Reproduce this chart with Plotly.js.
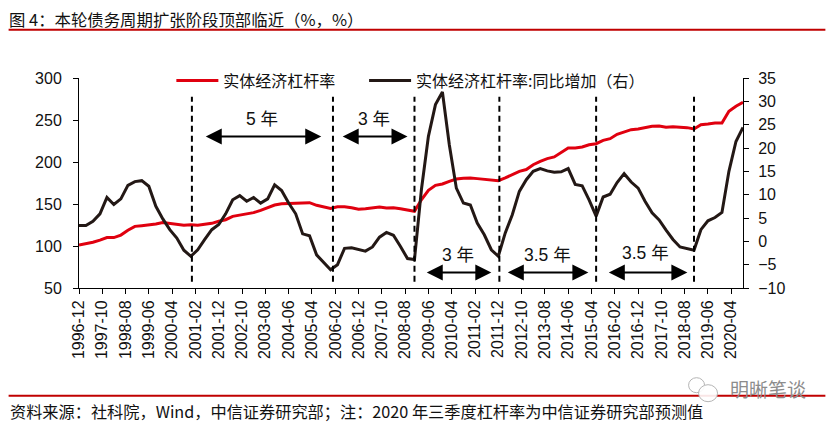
<!DOCTYPE html>
<html>
<head>
<meta charset="utf-8">
<script src="https://cdn.plot.ly/plotly-3.0.1.min.js"></script>
<style>html,body{margin:0;padding:0;background:#fff}#c{width:832px;height:426px}</style>
</head>
<body>
<div id="c"></div>
<script>
const quarters = ["1996-12","1997-03","1997-06","1997-09","1997-12","1998-03","1998-06","1998-09","1998-12","1999-03","1999-06","1999-09","1999-12","2000-03","2000-06","2000-09","2000-12","2001-03","2001-06","2001-09","2001-12","2002-03","2002-06","2002-09","2002-12","2003-03","2003-06","2003-09","2003-12","2004-03","2004-06","2004-09","2004-12","2005-03","2005-06","2005-09","2005-12","2006-03","2006-06","2006-09","2006-12","2007-03","2007-06","2007-09","2007-12","2008-03","2008-06","2008-09","2008-12","2009-03","2009-06","2009-09","2009-12","2010-03","2010-06","2010-09","2010-12","2011-03","2011-06","2011-09","2011-12","2012-03","2012-06","2012-09","2012-12","2013-03","2013-06","2013-09","2013-12","2014-03","2014-06","2014-09","2014-12","2015-03","2015-06","2015-09","2015-12","2016-03","2016-06","2016-09","2016-12","2017-03","2017-06","2017-09","2017-12","2018-03","2018-06","2018-09","2018-12","2019-03","2019-06","2019-09","2019-12","2020-03","2020-06","2020-09"];
const leverage = [101.2,102.8,104.4,107,110,110,113,118.7,123.4,124.2,125,126.2,128,127,125.8,124.6,125.4,124.6,125.8,127,129.4,131.3,135.3,136.9,138,139.7,142.5,145.2,148.8,150.4,150.8,151.6,151.2,151.6,148.4,146.8,144.8,146.8,146.8,145.6,143.7,144.4,145.6,146.4,145.2,145.6,144.4,142.5,141.3,155,166.3,172.2,173.8,177,179.8,180.6,181,180.2,179.4,178.6,177.8,181,185,188.9,191,196.8,200.8,204,206,211.5,216.7,216.7,217.9,220.6,221.8,225.8,227.8,233,236,238.5,239.3,241.3,242.5,242.9,241.3,242,241.3,240.9,239.3,244.4,245.2,246.4,246.4,260.3,266.3,271];
const leverageYoY = [3.4,3.4,4.3,5.9,9.4,7.9,9.1,12,12.8,13,11.8,7.5,4.8,2.5,0.7,-1.9,-3.2,-1.8,0.4,2.5,3.6,5.9,8.9,9.8,8.6,9.4,8.2,9.1,12.1,10.9,8.2,5.9,1.6,1.2,-2.9,-4.6,-6.1,-5,-1.5,-1.4,-1.8,-2.1,-1.2,0.9,1.9,1.3,-1.1,-3.7,-3.9,11,22.5,29.3,32,20.7,11.4,8.2,7.8,3.9,1.4,-1.8,-3.2,1.8,5.7,10.7,13.2,15,15.6,15.1,14.8,14.9,15.6,12.2,11.9,8.9,5.4,9.5,10.1,12.6,14.5,12.7,11.4,8.6,6.1,4.6,2.4,0.4,-1.2,-1.6,-1.9,2.5,4.4,5.1,6.2,15,21.4,24.4];
const tickLabels = ["1996-12","1997-10","1998-08","1999-06","2000-04","2001-02","2001-12","2002-10","2003-08","2004-06","2005-04","2006-02","2006-12","2007-10","2008-08","2009-06","2010-04","2011-02","2011-12","2012-10","2013-08","2014-06","2015-04","2016-02","2016-12","2017-10","2018-08","2019-06","2020-04"];
const cycleMarks = ["2000-12-15","2006-01-01","2008-12-01","2011-12-15","2015-06-01","2018-12-01"];
const spans = [
  {from:"2001-05-25",to:"2005-08-01",level:230.5,label:"5 年",mid:"2003-06-20",textLevel:251.5},
  {from:"2006-04-18",to:"2008-09-01",level:230.5,label:"3 年",mid:"2007-06-15",textLevel:251.5},
  {from:"2009-04-21",to:"2011-09-01",level:68.6,label:"3 年",mid:"2010-06-20",textLevel:89.6},
  {from:"2012-03-15",to:"2015-02-20",level:68.6,label:"3.5 年",mid:"2013-09-01",textLevel:89.6},
  {from:"2015-10-25",to:"2018-09-05",level:68.6,label:"3.5 年",mid:"2017-03-10",textLevel:92}
];
const W=832,H=426,L=78.5,R=743.5,T=78.3,B=288.3;
const px=v=>(v-L)/(R-L), py=v=>(B-v)/(B-T);
const sans='"Liberation Sans","Noto Sans CJK SC",sans-serif';
const cjk='"Noto Sans CJK SC","Liberation Sans",sans-serif';
const ink='#111111';

const traces=[
 {x:quarters,y:leverage,name:'实体经济杠杆率',type:'scatter',mode:'lines',line:{color:'#E0000F',width:3},yaxis:'y',legend:'legend'},
 {x:quarters,y:leverageYoY,name:'实体经济杠杆率:同比增加（右）',type:'scatter',mode:'lines',line:{color:'#231815',width:3},yaxis:'y2',legend:'legend2'}
];
const shapes=cycleMarks.map(d=>({type:'line',xref:'x',yref:'y',x0:d,x1:d,y0:57.5,y1:277.7,line:{color:'#000',width:2,dash:'6px,4px'}}));
const rule=(y,x1)=>({type:'line',xref:'paper',yref:'paper',x0:px(8),x1:px(x1),y0:py(y),y1:py(y),line:{color:'#C00000',width:2}});
shapes.push(rule(30,826),rule(396,826));
shapes.push(
 {type:'circle',xref:'paper',yref:'paper',x0:px(689),x1:px(705),y0:py(393),y1:py(378),fillcolor:'rgba(255,255,255,0.85)',line:{color:'#b5b5b5',width:1}},
 {type:'circle',xref:'paper',yref:'paper',x0:px(699),x1:px(718),y0:py(402),y1:py(385),fillcolor:'rgba(255,255,255,0.9)',line:{color:'#b5b5b5',width:1}}
);
const annotations=[];
spans.forEach(s=>{
 annotations.push({xref:'x',yref:'y',axref:'x',ayref:'y',x:s.to,y:s.level,ax:s.from,ay:s.level,text:'',showarrow:true,arrowside:'end+start',arrowhead:2,arrowsize:1.6,arrowwidth:2,arrowcolor:'#000',standoff:0,startstandoff:0,startarrowhead:2,startarrowsize:1.6});
 annotations.push({xref:'x',yref:'y',x:s.mid,y:s.textLevel,text:s.label,showarrow:false,font:{family:sans,size:17.5,color:ink},xanchor:'center',yanchor:'middle'});
});
annotations.push({xref:'paper',yref:'paper',x:px(7),y:py(411.5),xanchor:'left',yanchor:'middle',showarrow:false,text:'资料来源：社科院，Wind，中信证券研究部；注：2020 年三季度杠杆率为中信证券研究部预测值',font:{family:cjk,size:16.2,color:ink}});
annotations.push({xref:'paper',yref:'paper',x:px(728),y:py(389),xanchor:'left',yanchor:'middle',showarrow:false,text:'明晰笔谈',font:{family:cjk,size:19,color:'#8c8c8c'}});

const legendBase={orientation:'h',xanchor:'left',y:py(81),yanchor:'middle',itemwidth:42,font:{family:cjk,size:16,color:ink},bgcolor:'rgba(0,0,0,0)'};
const layout={
 width:W,height:H,paper_bgcolor:'#fff',plot_bgcolor:'#fff',
 margin:{l:L,r:W-R,t:T,b:H-B,pad:0},
 font:{family:sans,size:16,color:ink},
 title:{text:'图 4：本轮债务周期扩张阶段顶部临近（%，%）',x:9/W,xanchor:'left',xref:'container',y:1-20/H,yanchor:'middle',yref:'container',font:{family:cjk,size:16.4,color:ink}},
 showlegend:true,
 legend:Object.assign({},legendBase,{x:px(171)}),
 legend2:Object.assign({},legendBase,{x:px(364)}),
 xaxis:{type:'date',range:['1996-12-01','2020-09-01'],tickmode:'array',tickvals:tickLabels,ticktext:tickLabels,tickangle:-90,ticks:'outside',ticklen:5,tickwidth:1,tickcolor:'#000',showline:true,linecolor:'#000',linewidth:1,showgrid:false,zeroline:false,tickfont:{family:sans,size:16,color:ink}},
 yaxis:{range:[50,300],dtick:50,ticks:'outside',ticklen:5,tickwidth:1,tickcolor:'#000',showline:true,linecolor:'#000',linewidth:1,showgrid:false,zeroline:false,tickfont:{family:sans,size:16,color:ink},ticklabelstandoff:8},
 yaxis2:{overlaying:'y',side:'right',range:[-10,35],dtick:5,ticks:'outside',ticklen:5,tickwidth:1,tickcolor:'#000',showline:true,linecolor:'#000',linewidth:1,showgrid:false,zeroline:false,tickfont:{family:sans,size:16,color:ink},ticklabelstandoff:6},
 shapes,annotations
};
Plotly.newPlot('c',traces,layout,{displayModeBar:false,staticPlot:true});
</script>
</body>
</html>
